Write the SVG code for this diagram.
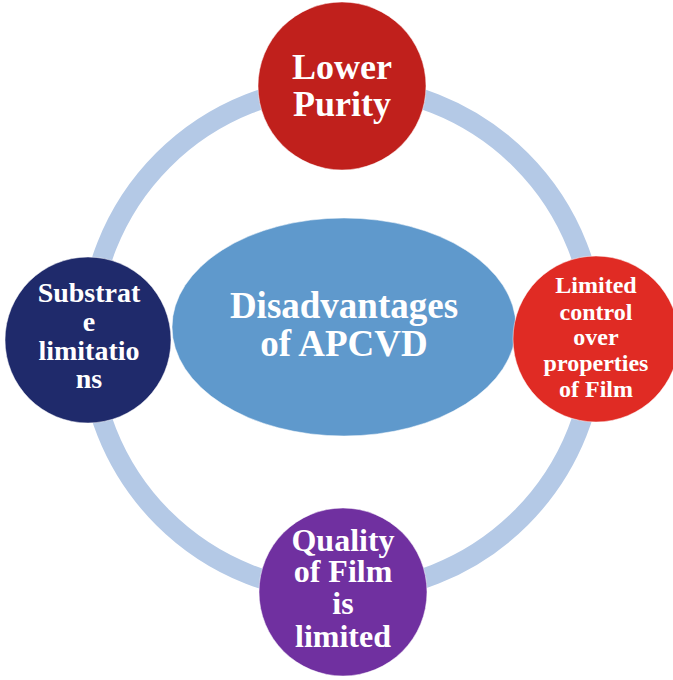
<svg xmlns="http://www.w3.org/2000/svg" width="673" height="680" viewBox="0 0 673 680">
  <style>
    .lbl { font-family: "Liberation Serif", "Times New Roman", serif; font-weight: bold; fill: #ffffff; text-anchor: middle; }
    .ring { fill: none; stroke: #b4c9e6; stroke-width: 20; }
    .node { stroke: #ffffff; stroke-width: 1; stroke-opacity: 0.5; }
  </style>
  <rect width="673" height="680" fill="#ffffff"/>

  <!-- connecting ring through the four outer nodes -->
  <g id="connectors">
    <circle class="ring" cx="342" cy="339" r="253"/>
  </g>

  <g id="center">
    <ellipse class="node" cx="344" cy="327" rx="172" ry="109" fill="#5f99cc"/>
    <text class="lbl" x="344" y="318" font-size="37">Disadvantages</text>
    <text class="lbl" x="344" y="356" font-size="37">of APCVD</text>
  </g>

  <g id="lower-purity">
    <circle class="node" cx="342" cy="86" r="84" fill="#c0201c"/>
    <text class="lbl" x="342" y="79" font-size="36">Lower</text>
    <text class="lbl" x="342" y="116" font-size="36">Purity</text>
  </g>

  <g id="limited-control">
    <circle class="node" cx="596" cy="339" r="83" fill="#e02b24"/>
    <text class="lbl" x="596" y="293" font-size="24">Limited</text>
    <text class="lbl" x="596" y="320" font-size="24">control</text>
    <text class="lbl" x="596" y="345" font-size="24">over</text>
    <text class="lbl" x="596" y="371" font-size="24">properties</text>
    <text class="lbl" x="596" y="397" font-size="24">of Film</text>
  </g>

  <g id="quality-of-film">
    <circle class="node" cx="343" cy="592" r="84" fill="#7030a0"/>
    <text class="lbl" x="343" y="551" font-size="32">Quality</text>
    <text class="lbl" x="343" y="582" font-size="32">of Film</text>
    <text class="lbl" x="343" y="614" font-size="32">is</text>
    <text class="lbl" x="343" y="647" font-size="32">limited</text>
  </g>

  <g id="substrate-limitations">
    <circle class="node" cx="88" cy="340" r="83" fill="#1f2a6b"/>
    <text class="lbl" x="89" y="302" font-size="28">Substrat</text>
    <text class="lbl" x="89" y="331" font-size="28">e</text>
    <text class="lbl" x="89" y="360" font-size="28">limitatio</text>
    <text class="lbl" x="89" y="388" font-size="28">ns</text>
  </g>
</svg>
